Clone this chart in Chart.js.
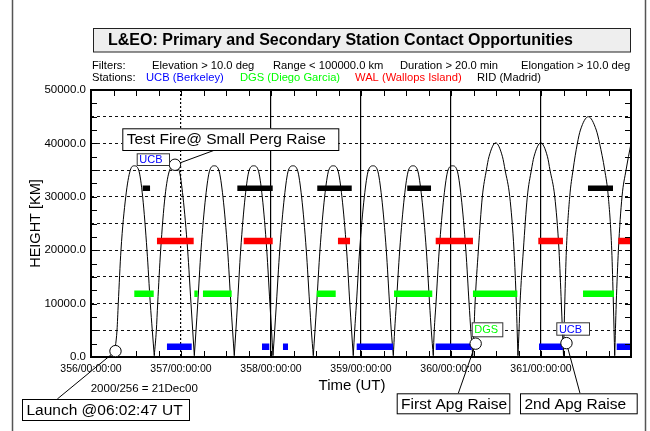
<!DOCTYPE html>
<html>
<head>
<meta charset="utf-8">
<script src="https://cdn.jsdelivr.net/npm/chart.js@4.4.1/dist/chart.umd.min.js"></script>
<style>
  html, body { margin: 0; padding: 0; background: #fff; }
  canvas { display: block; }
</style>
</head>
<body>
<canvas id="contacts" width="650" height="431"></canvas>
<script>
// Time is day-of-year 2000 (fractional days, UT); height is km above the Earth.
const dayTicks = [356, 357, 358, 359, 360, 361];
const heightTicks = [0, 10000, 20000, 30000, 40000, 50000];

// Spacecraft height along the transfer orbit: [day, km]; a repeated point marks a perigee pass
const orbitTrack = [
  [356.252, 0], [356.289, 5000], [356.303, 10000], [356.333, 20000], [356.386, 30000], [356.437, 35000],
  [356.481, 35800], [356.530, 35000], [356.574, 30000], [356.622, 20000], [356.659, 10000], [356.681, 5000], [356.703, 250],
  [356.703, 250], [356.726, 5000], [356.741, 10000], [356.774, 20000], [356.822, 30000], [356.874, 35000],
  [356.926, 35800], [356.978, 35000], [357.022, 30000], [357.074, 20000], [357.111, 10000], [357.130, 5000], [357.148, 250],
  [357.148, 250], [357.167, 5000], [357.186, 10000], [357.222, 20000], [357.274, 30000], [357.320, 35000],
  [357.370, 35800], [357.420, 35000], [357.466, 30000], [357.518, 20000], [357.554, 10000], [357.573, 5000], [357.592, 250],
  [357.592, 250], [357.610, 5000], [357.628, 10000], [357.663, 20000], [357.713, 30000], [357.758, 35000],
  [357.808, 35800], [357.858, 35000], [357.903, 30000], [357.953, 20000], [357.988, 10000], [358.006, 5000], [358.022, 250],
  [358.022, 250], [358.041, 5000], [358.060, 10000], [358.097, 20000], [358.149, 30000], [358.194, 35000],
  [358.244, 35800], [358.294, 35000], [358.340, 30000], [358.392, 20000], [358.429, 10000], [358.448, 5000], [358.470, 250],
  [358.470, 250], [358.489, 5000], [358.508, 10000], [358.544, 20000], [358.596, 30000], [358.642, 35000],
  [358.692, 35800], [358.742, 35000], [358.788, 30000], [358.840, 20000], [358.876, 10000], [358.895, 5000], [358.914, 250],
  [358.914, 250], [358.930, 5000], [358.949, 10000], [358.985, 20000], [359.037, 30000], [359.083, 35000],
  [359.133, 35800], [359.183, 35000], [359.229, 30000], [359.281, 20000], [359.317, 10000], [359.336, 5000], [359.359, 250],
  [359.359, 250], [359.374, 5000], [359.393, 10000], [359.430, 20000], [359.482, 30000], [359.528, 35000],
  [359.578, 35800], [359.628, 35000], [359.674, 30000], [359.726, 20000], [359.762, 10000], [359.781, 5000], [359.803, 250],
  [359.803, 250], [359.814, 5000], [359.833, 10000], [359.869, 20000], [359.921, 30000], [359.967, 35000],
  [360.017, 35800], [360.067, 35000], [360.113, 30000], [360.165, 20000], [360.201, 10000], [360.220, 5000], [360.241, 250],
  [360.241, 250], [360.255, 5000], [360.267, 10000], [360.304, 20000], [360.348, 30000], [360.393, 35000], [360.422, 37500],
  [360.497, 40100], [360.572, 37500], [360.601, 35000], [360.653, 30000], [360.700, 20000], [360.726, 10000], [360.735, 5000], [360.744, 250],
  [360.744, 250], [360.756, 5000], [360.767, 10000], [360.804, 20000], [360.848, 30000], [360.893, 35000], [360.922, 37500],
  [360.997, 40100], [361.072, 37500], [361.100, 35000], [361.153, 30000], [361.200, 20000], [361.226, 10000], [361.238, 5000], [361.250, 250],
  [361.250, 250], [361.264, 10000], [361.282, 20000], [361.319, 30000], [361.356, 35000], [361.404, 40000], [361.438, 42500],
  [361.526, 45000], [361.614, 42500], [361.651, 40000], [361.708, 35000], [361.748, 30000], [361.786, 20000], [361.804, 10000], [361.819, 250],
  [361.819, 250], [361.836, 10000], [361.860, 20000], [361.900, 30000], [361.945, 35000], [362.000, 40000]
];

// Contact windows per ground station: [start day, end day]
const ucbPasses = [[356.844, 357.119], [357.900, 357.981], [358.133, 358.189], [358.952, 359.356], [359.830, 360.230], [360.978, 361.244], [361.841, 362.000]];
const dgsPasses = [[356.481, 356.697], [357.148, 357.186], [357.244, 357.563], [358.508, 358.719], [359.367, 359.792], [360.244, 360.737], [361.467, 361.811]];
const walPasses = [[356.733, 357.141], [357.697, 358.019], [358.744, 358.878], [359.830, 360.244], [360.970, 361.244], [361.859, 362.000]];
const ridPasses = [[356.574, 356.656], [357.626, 358.019], [358.514, 358.897], [359.514, 359.778], [361.522, 361.800]];

// Height (km) at which each station's windows are plotted
const ucbLevel = 1900;
const dgsLevel = 11850;
const walLevel = 21700;
const ridLevel = 31600;

// Mission events marked on the orbit trace
const eventTimes = [356.272, 356.933, 360.274, 361.283];
const eventHeights = [1100, 36000, 2500, 2600];
const eventNotes = ['Launch @06:02:47 UT', 'Test Fire@ Small Perg Raise', 'First Apg Raise', '2nd Apg Raise'];
const eventStations = ['', 'UCB', 'DGS', 'UCB'];

const chartTitle = 'L&EO: Primary and Secondary Station Contact Opportunities';
const filterNotes = ['Elevation > 10.0 deg', 'Range < 100000.0 km', 'Duration > 20.0 min', 'Elongation > 10.0 deg'];
const stationNames = ['UCB (Berkeley)', 'DGS (Diego Garcia)', 'WAL (Wallops Island)', 'RID (Madrid)'];
const epochNote = '2000/256 = 21Dec00';

const FONT = "'Liberation Sans', Arial, Helvetica, sans-serif";
const stationColor = { UCB: '#0000ff', DGS: '#00ff00', WAL: '#ff0000', RID: '#000000' };

// Split the trace at each perigee so every revolution is its own smooth arc
function orbitArcs(track) {
  const arcs = [];
  let cur = [];
  track.forEach((p, i) => {
    const prev = track[i - 1];
    if (prev && prev[0] === p[0] && prev[1] === p[1]) {
      arcs.push(cur);
      cur = [];
    }
    cur.push({ x: p[0], y: p[1] });
  });
  arcs.push(cur);
  return arcs;
}

function passTrack(passes, level) {
  const pts = [];
  passes.forEach(([a, b]) => {
    pts.push({ x: a, y: level }, { x: b, y: level }, { x: b, y: null });
  });
  return pts;
}

function passDataset(passes, level, color, width) {
  return {
    data: passTrack(passes, level),
    borderColor: color,
    borderWidth: width,
    borderCapStyle: 'butt',
    pointRadius: 0,
    spanGaps: false,
    tension: 0,
    order: 0
  };
}

const orbitDatasets = orbitArcs(orbitTrack).map((arc) => ({
  data: arc,
  borderColor: '#000',
  borderWidth: 1,
  pointRadius: 0,
  cubicInterpolationMode: 'monotone',
  order: 1
}));

// Inside tick marks, plot frame and all the page furniture around the plot
const sheetDecor = {
  id: 'sheetDecor',
  beforeDraw(chart) {
    const { ctx, width, height } = chart;
    ctx.save();
    ctx.fillStyle = '#fff';
    ctx.fillRect(0, 0, width, height);
    ctx.restore();
  },
  afterDatasetsDraw(chart) {
    const { ctx, chartArea: a, scales: { x, y } } = chart;
    ctx.save();
    ctx.strokeStyle = '#000';
    ctx.lineWidth = 1;
    ctx.beginPath();
    for (let v = y.min + 2500; v < y.max; v += 2500) {
      const py = Math.round(y.getPixelForValue(v)) + 0.5;
      ctx.moveTo(a.left, py); ctx.lineTo(a.left + 6, py);
      ctx.moveTo(a.right, py); ctx.lineTo(a.right - 6, py);
    }
    for (let q = 1; q < (x.max - x.min) * 4; q++) {
      const px = Math.round(x.getPixelForValue(x.min + q * 0.25)) + 0.5;
      ctx.moveTo(px, a.top); ctx.lineTo(px, a.top + 6);
      ctx.moveTo(px, a.bottom); ctx.lineTo(px, a.bottom - 6);
    }
    ctx.stroke();
    ctx.lineWidth = 2;
    ctx.strokeRect(a.left, a.top, a.right - a.left, a.bottom - a.top);
    ctx.restore();
  },
  afterDraw(chart) {
    const { ctx, scales: { x, y } } = chart;
    ctx.save();

    // page frame
    ctx.strokeStyle = '#555';
    ctx.lineWidth = 1.5;
    ctx.beginPath();
    ctx.moveTo(12.5, 0); ctx.lineTo(12.5, 431);
    ctx.moveTo(645.5, 0); ctx.lineTo(645.5, 431);
    ctx.stroke();

    // title panel
    ctx.fillStyle = '#eeeeee';
    ctx.fillRect(93.5, 28.5, 537, 23.5);
    ctx.strokeStyle = '#222';
    ctx.lineWidth = 1;
    ctx.strokeRect(93.5, 28.5, 537, 23.5);
    ctx.fillStyle = '#000';
    ctx.textAlign = 'left';
    ctx.textBaseline = 'middle';
    ctx.font = 'bold 16px ' + FONT;
    ctx.fillText(chartTitle, 108, 41);

    // filter and station header lines
    ctx.font = '11.2px ' + FONT;
    ctx.fillText('Filters:', 92, 65.5);
    const filterX = [152, 273, 400, 521];
    filterNotes.forEach((t, i) => ctx.fillText(t, filterX[i], 65.5));
    ctx.fillText('Stations:', 92, 77.5);
    const stationX = [146, 240, 355, 477];
    stationNames.forEach((t, i) => {
      ctx.fillStyle = stationColor[t.slice(0, 3)];
      ctx.fillText(t, stationX[i], 77.5);
    });

    // axis captions
    ctx.fillStyle = '#000';
    ctx.font = '15px ' + FONT;
    ctx.textAlign = 'center';
    ctx.fillText('Time (UT)', 352, 386);
    ctx.font = '11.5px ' + FONT;
    ctx.textAlign = 'left';
    ctx.fillText(epochNote, 90.7, 388.5);

    // event call-outs
    const noteBox = [
      { x: 22, y: 399, w: 167, h: 21, ax: 57.3, ay: 399 },
      { x: 122.3, y: 128.3, w: 216, h: 21.7, ax: 215, ay: 150 },
      { x: 396.7, y: 393.3, w: 112.6, h: 20, ax: 458.3, ay: 393.3 },
      { x: 520, y: 393.3, w: 116.7, h: 20, ax: 580, ay: 393.3 }
    ];
    const tagBox = [
      null,
      { x: 136.7, y: 153.3, w: 32.3, h: 11.7 },
      { x: 471.7, y: 322.3, w: 30.6, h: 14 },
      { x: 556.3, y: 322.3, w: 32.7, h: 12.4 }
    ];
    const marks = eventTimes.map((t, i) => ({ px: x.getPixelForValue(t), py: y.getPixelForValue(eventHeights[i]) }));

    ctx.strokeStyle = '#000';
    ctx.lineWidth = 1;
    marks.forEach((m, i) => {
      ctx.beginPath();
      ctx.moveTo(noteBox[i].ax, noteBox[i].ay);
      ctx.lineTo(m.px, m.py);
      ctx.stroke();
    });
    marks.forEach((m) => {
      ctx.beginPath();
      ctx.arc(m.px, m.py, 5.7, 0, Math.PI * 2);
      ctx.fillStyle = '#fff';
      ctx.fill();
      ctx.stroke();
    });

    ctx.font = '15.5px ' + FONT;
    noteBox.forEach((b, i) => {
      ctx.fillStyle = '#fff';
      ctx.fillRect(b.x, b.y, b.w, b.h);
      ctx.strokeStyle = '#000';
      ctx.strokeRect(b.x + 0.5, b.y + 0.5, b.w, b.h);
      ctx.fillStyle = '#000';
      ctx.fillText(eventNotes[i], b.x + 4.4, b.y + b.h / 2 + 1);
    });

    ctx.font = '11px ' + FONT;
    tagBox.forEach((b, i) => {
      if (!b) return;
      ctx.fillStyle = '#fff';
      ctx.fillRect(b.x, b.y, b.w, b.h);
      ctx.strokeStyle = '#333';
      ctx.strokeRect(b.x + 0.5, b.y + 0.5, b.w, b.h);
      ctx.fillStyle = stationColor[eventStations[i]];
      ctx.fillText(eventStations[i], b.x + 2.6, b.y + b.h / 2 + 1);
    });

    ctx.restore();
  }
};

const inside = (v, lo, hi) => v > lo && v < hi;
const lastDay = dayTicks[dayTicks.length - 1] + 1;

new Chart(document.getElementById('contacts'), {
  type: 'line',
  data: {
    datasets: [
      passDataset(ucbPasses, ucbLevel, stationColor.UCB, 6.5),
      passDataset(dgsPasses, dgsLevel, stationColor.DGS, 6.5),
      passDataset(walPasses, walLevel, stationColor.WAL, 6.5),
      passDataset(ridPasses, ridLevel, stationColor.RID, 5.5)
    ].concat(orbitDatasets)
  },
  options: {
    responsive: false,
    animation: false,
    devicePixelRatio: 1,
    layout: { padding: { left: 0, top: 90, right: 19, bottom: 0 } },
    plugins: { legend: { display: false }, title: { display: false }, tooltip: { enabled: false } },
    scales: {
      x: {
        type: 'linear',
        min: dayTicks[0],
        max: lastDay,
        afterFit: (s) => { s.height = 74; },
        afterBuildTicks: (s) => { s.ticks = dayTicks.concat([lastDay]).map((v) => ({ value: v })); },
        ticks: {
          autoSkip: false,
          maxRotation: 0,
          padding: 6,
          color: '#000',
          font: { size: 10.5, family: FONT },
          callback: (v) => (dayTicks.includes(v) ? v + '/00:00:00' : '')
        },
        grid: {
          drawTicks: false,
          lineWidth: 1.2,
          color: (c) => (c.tick && inside(c.tick.value, dayTicks[0], lastDay) ? '#000' : 'rgba(0,0,0,0)')
        },
        border: {
          display: false,
          dash: (c) => (c.tick && c.tick.value === dayTicks[1] ? [2, 2] : [])
        }
      },
      y: {
        type: 'linear',
        min: heightTicks[0],
        max: heightTicks[heightTicks.length - 1],
        afterFit: (s) => { s.width = 91; },
        ticks: {
          stepSize: 5000,
          autoSkip: false,
          padding: 5,
          color: '#000',
          font: { size: 11.5, family: FONT },
          callback: (v) => (heightTicks.includes(v) ? v.toFixed(1) : '')
        },
        grid: {
          drawTicks: false,
          lineWidth: 1,
          color: (c) => (c.tick && inside(c.tick.value, heightTicks[0], heightTicks[heightTicks.length - 1]) ? '#111' : 'rgba(0,0,0,0)')
        },
        border: { display: false, dash: [3, 3] },
        title: {
          display: true,
          text: 'HEIGHT [KM]',
          color: '#000',
          font: { size: 14.5, family: FONT },
          padding: { top: 27.3, bottom: 0 }
        }
      }
    }
  },
  plugins: [sheetDecor]
});
</script>
</body>
</html>
